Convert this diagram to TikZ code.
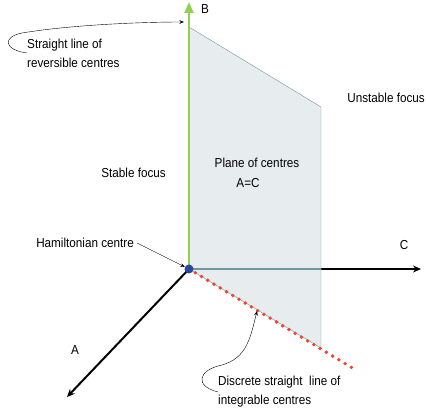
\documentclass[tikz,border=0pt]{standalone}
\usepackage{fontspec}
\setmainfont{Liberation Sans}[FakeStretch=0.9]
\usetikzlibrary{arrows.meta,positioning}
\definecolor{axgreen}{RGB}{146,208,80}
\definecolor{planefill}{RGB}{231,236,238}
\definecolor{planeedge}{RGB}{112,150,160}
\definecolor{dotred}{RGB}{250,62,40}
\definecolor{hamblue}{RGB}{38,72,160}

\begin{document}
\begin{tikzpicture}[x=1pt, y=-1pt,
  lbl/.style={font=\fontsize{13}{19}\selectfont, inner sep=0pt, align=left},
  axis/.style={line width=2pt, -{Stealth[length=8pt,width=7pt]}},
  ptr/.style={thin, -{Stealth[length=4.5pt,width=3.5pt]}}
]
\useasboundingbox (0,0) rectangle (426,414);

% Axes end points and plane corners
\coordinate (o)    at (189,269);
\coordinate (btip) at (189,2);
\coordinate (ctip) at (421,269);
\coordinate (atip) at (67,397);
\coordinate (ptl)  at (189,27);
\coordinate (ptr)  at (321,107);
\coordinate (pbr)  at (321,348);
\coordinate (dend) at (354,369);

% C axis
\draw[axis] (o) -- (ctip);

% Plane of centres
\draw[planeedge, fill=planefill, thin] (o) -- (ptl) -- (ptr) -- (pbr) -- cycle;
\draw[planeedge, line width=2pt] (o) -- (pbr |- o);

% Line of integrable centres
\draw[dotred, line width=3.8pt, line cap=round, dash pattern=on 0pt off 7.3pt] (o) -- (dend);

% B and A axes
\draw[axgreen, line width=2.4pt, -{Triangle[length=11pt,width=9pt]}] (o) -- (btip);
\draw[axis] (o) -- (atip);

% Hamiltonian centre
\node[circle, fill=hamblue, minimum size=9pt, inner sep=0pt] (ham) at (o) {};

% Labels
\node[lbl] (blab) at (205,9)  {B};
\node[lbl] (clab) at (404,245) {C};
\node[lbl] (alab) at (75,350) {A};
\node[lbl, anchor=east] (unst) at (425,98)  {Unstable focus};
\node[lbl, anchor=east] (stab) at (166,173) {Stable focus};
\node[lbl] (plane) at (257,163) {Plane of centres};
\node[lbl] (aeqc)  at (248,183) {A=C};
\node[lbl, anchor=east] (hlab) at (134,243) {Hamiltonian centre};
\node[lbl, anchor=west] (rev)  at (27,53) {Straight line of\\reversible centres};
\node[lbl, anchor=west] (disc) at (218,392) {Discrete straight\ \ line of\\integrable centres};

% Pointers
\coordinate (revpt)  at (184,22);
\coordinate (discpt) at (257,311);
\draw[ptr] (hlab.east) ++(3pt,0) -- (ham);
\draw[ptr] (rev.west) .. controls (4,50) and (2,37) .. (22,33)
  .. controls (70,25) and (140,22) .. (revpt);
\draw[ptr] (disc.west) .. controls (194,386) and (198,370) .. (222,365)
  .. controls (246,358) and (250,340) .. (discpt);
\end{tikzpicture}
\end{document}
